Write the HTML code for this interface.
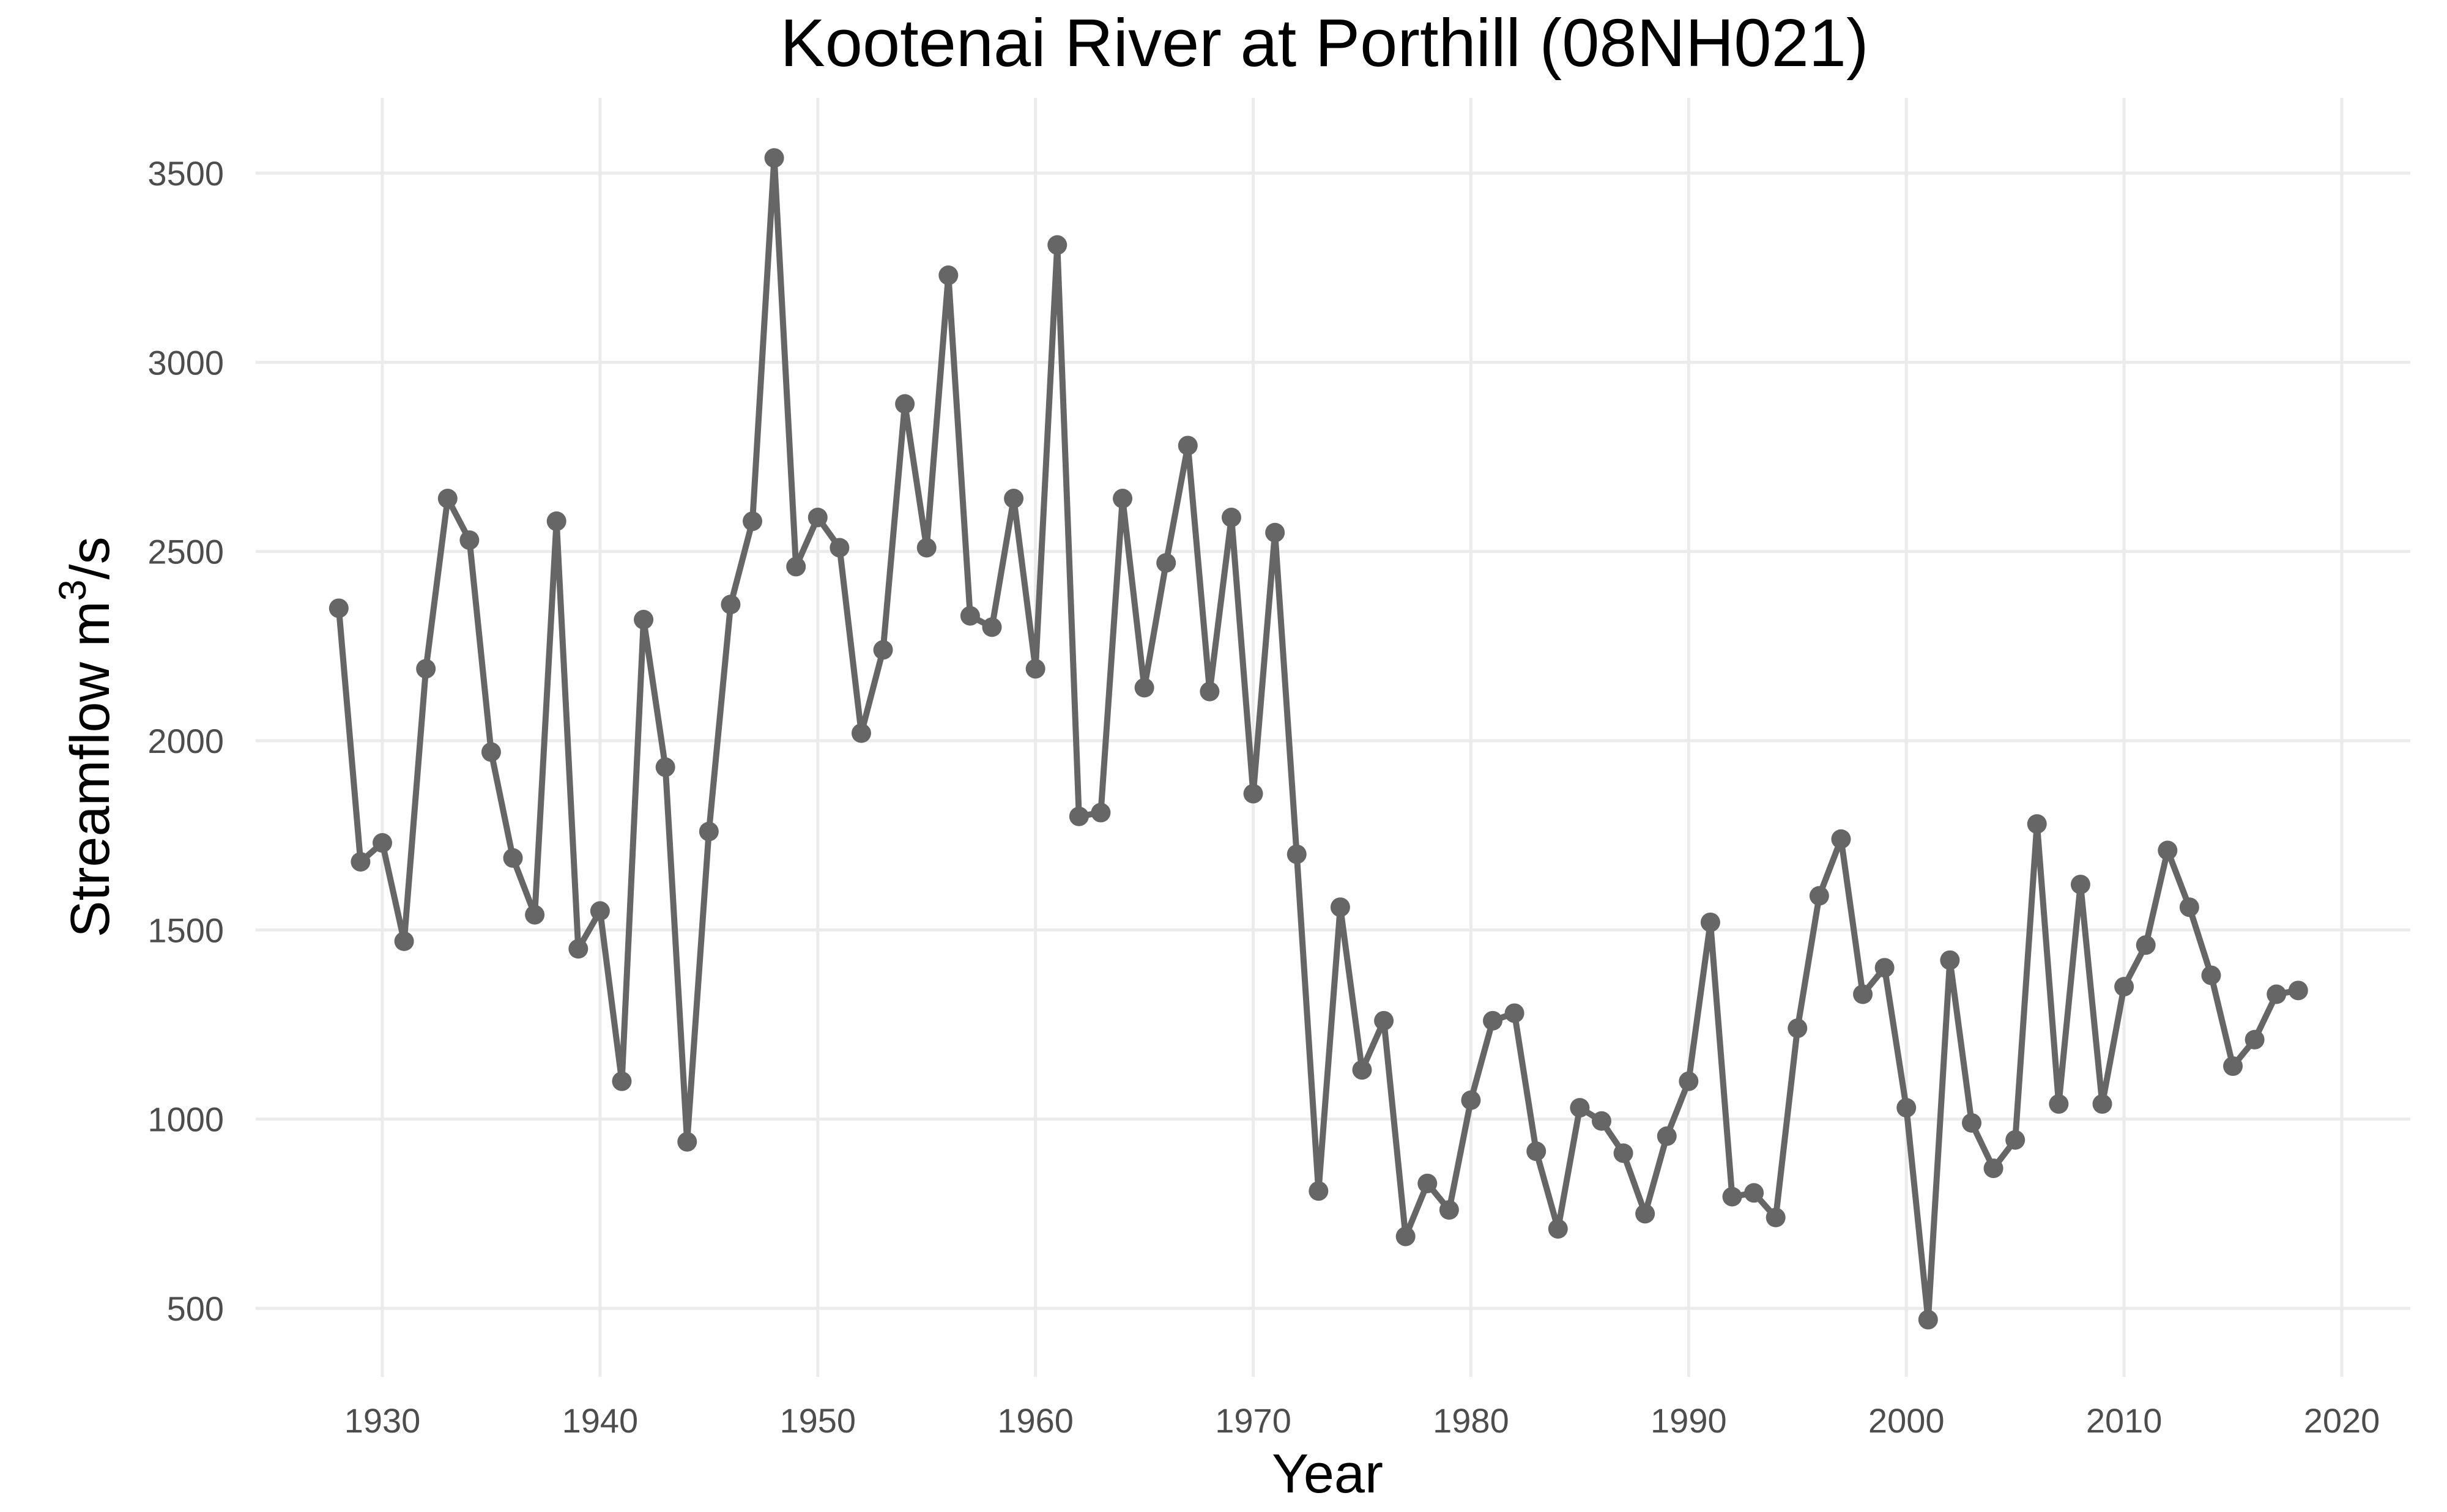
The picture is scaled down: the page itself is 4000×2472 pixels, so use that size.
<!DOCTYPE html>
<html><head><meta charset="utf-8"><style>
html,body{margin:0;padding:0;background:#fff;}
svg{display:block;font-family:"Liberation Sans",sans-serif;}
</style></head><body>
<svg id="chart" width="4000" height="2472" viewBox="0 0 4000 2472">
<rect width="4000" height="2472" fill="#fff"/>
<text x="2165" y="108" font-size="110" text-anchor="middle" fill="#000">Kootenai River at Porthill (08NH021)</text>
<g id="grid"></g>
<g id="yticks"></g>
<g id="xticks"></g>
<g id="series"></g>
<text x="2170" y="2440" font-size="90" text-anchor="middle" fill="#000">Year</text>
<text transform="translate(178,1205) rotate(-90)" font-size="90" text-anchor="middle" fill="#000">Streamflow m<tspan dy="-38" font-size="63">3</tspan><tspan dy="38">/s</tspan></text>
</svg>
<script>
const years=[1928,1929,1930,1931,1932,1933,1934,1935,1936,1937,1938,1939,1940,1941,1942,1943,1944,1945,1946,1947,1948,1949,1950,1951,1952,1953,1954,1955,1956,1957,1958,1959,1960,1961,1962,1963,1964,1965,1966,1967,1968,1969,1970,1971,1972,1973,1974,1975,1976,1977,1978,1979,1980,1981,1982,1983,1984,1985,1986,1987,1988,1989,1990,1991,1992,1993,1994,1995,1996,1997,1998,1999,2000,2001,2002,2003,2004,2005,2006,2007,2008,2009,2010,2011,2012,2013,2014,2015,2016,2017,2018];
const flows=[2350,1680,1730,1470,2190,2640,2530,1970,1690,1540,2580,1450,1550,1100,2320,1930,940,1760,2360,2580,3540,2460,2590,2510,2020,2240,2890,2510,3230,2330,2300,2640,2190,3310,1800,1810,2640,2140,2470,2780,2130,2590,1860,2550,1700,810,1560,1130,1260,690,830,760,1050,1260,1280,915,710,1030,995,910,750,955,1100,1520,795,805,740,1240,1590,1740,1330,1400,1030,470,1420,990,870,945,1780,1040,1620,1040,1350,1460,1710,1560,1380,1140,1210,1330,1340];
const xTicks=[1930,1940,1950,1960,1970,1980,1990,2000,2010,2020];
const yTicks=[500,1000,1500,2000,2500,3000,3500];
const NS="http://www.w3.org/2000/svg";
const L=418,R=3940,T=160,B=2251;
function xs(v){return 625+(v-1930)*(3828-625)/90;}
function ys(v){return 2139+(v-500)*(283-2139)/3000;}
function mk(tag,attrs,parent){const e=document.createElementNS(NS,tag);for(const k in attrs)e.setAttribute(k,attrs[k]);parent.appendChild(e);return e;}
const grid=document.getElementById('grid'),yt=document.getElementById('yticks'),xt=document.getElementById('xticks'),ser=document.getElementById('series');
yTicks.forEach(v=>{
 const g=mk('line',{x1:L,x2:R,y1:ys(v),y2:ys(v),stroke:'#ebebeb','stroke-width':5},grid);
 
 
 const t=mk('text',{x:366,y:ys(v)+20,'font-size':56,'text-anchor':'end',fill:'#4d4d4d'},yt);
 t.textContent=v;
 
 
});
xTicks.forEach(v=>{
 const g=mk('line',{x1:xs(v),x2:xs(v),y1:T,y2:B,stroke:'#ebebeb','stroke-width':5},grid);
 
 
 const t=mk('text',{x:xs(v),y:2342,'font-size':56,'text-anchor':'middle',fill:'#4d4d4d'},xt);
 t.textContent=v;
 
 
});
const pts=years.map((y,i)=>xs(y).toFixed(1)+','+ys(flows[i]).toFixed(1)).join(' ');
const line=mk('polyline',{points:pts,fill:'none',stroke:'#666666','stroke-width':10,'stroke-linejoin':'round'},ser);


years.forEach((y,i)=>{
 const c=mk('circle',{cx:xs(y),cy:ys(flows[i]),r:16,fill:'#666666'},ser);
 
 
});
</script>
</body></html>
